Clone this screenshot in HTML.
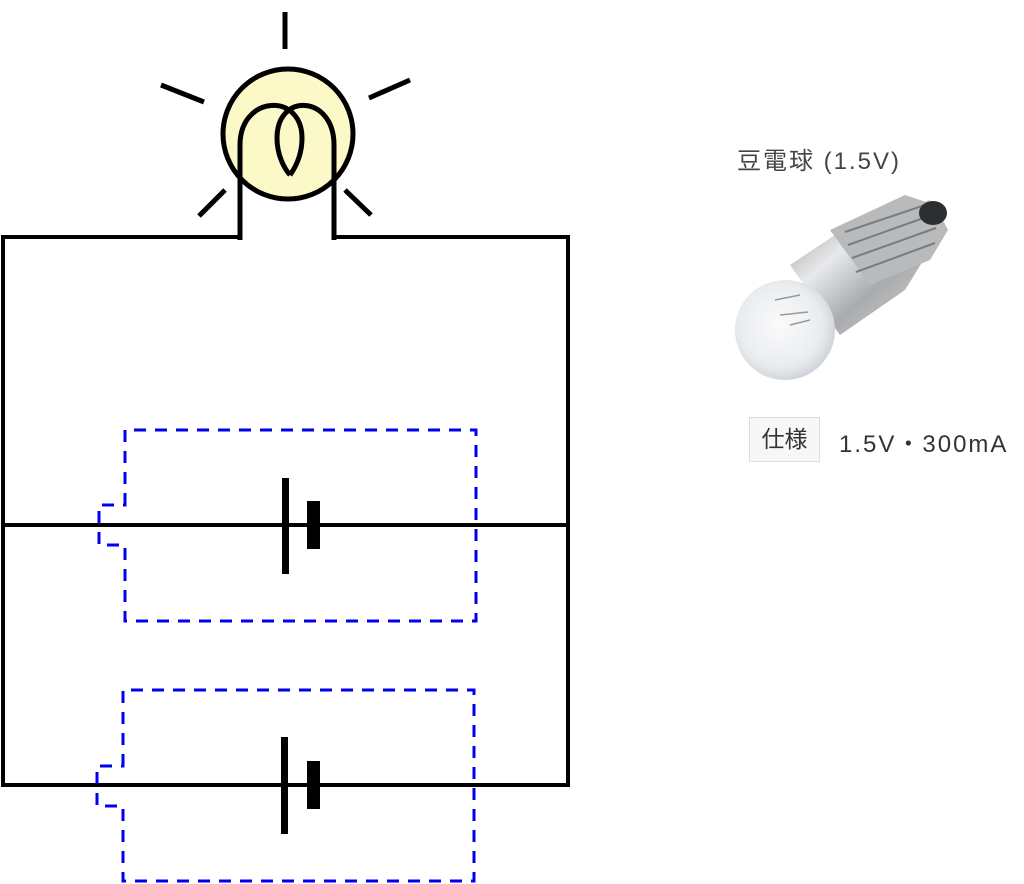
<!DOCTYPE html>
<html><head><meta charset="utf-8"><style>
html,body{margin:0;padding:0;background:#fff;}
body{width:1024px;height:884px;position:relative;overflow:hidden;font-family:"Liberation Sans","Noto Sans CJK JP",sans-serif;}
</style></head><body>
<svg width="1024" height="884" style="position:absolute;left:0;top:0">
<defs>
<radialGradient id="glass" cx="0.45" cy="0.45" r="0.6">
<stop offset="0" stop-color="#fbfbfc"/><stop offset="0.7" stop-color="#e9ecef"/><stop offset="1" stop-color="#c9cdd2"/>
</radialGradient>
<linearGradient id="metal" x1="0" y1="0" x2="1" y2="1">
<stop offset="0" stop-color="#8c8f92"/><stop offset="0.35" stop-color="#e8e9ea"/><stop offset="0.6" stop-color="#a9abad"/><stop offset="1" stop-color="#d8d9da"/>
</linearGradient>
</defs>
<g stroke="#000" stroke-width="4" fill="none">
<polyline points="240,140 240,237 3,237 3,785 568,785 568,237 334,237 334,140"/>
<line x1="3" y1="525" x2="568" y2="525"/>
</g>
<circle cx="288" cy="134" r="65" fill="#fcf9c8" stroke="#000" stroke-width="5"/>
<g stroke="#000" stroke-width="5" fill="none">
<path d="M240,240 L240,145 C240,95 302,92 302,138 C302,155 295,168 290,175"/>
<path d="M334,240 L334,145 C334,95 277,92 277,138 C277,155 284,168 290,175"/>
</g>
<g stroke="#000" stroke-width="5">
<line x1="285" y1="12" x2="285" y2="49"/>
<line x1="161" y1="85" x2="204" y2="102"/>
<line x1="369" y1="98" x2="410" y2="80"/>
<line x1="199" y1="216" x2="225" y2="190"/>
<line x1="345" y1="190" x2="371" y2="215"/>
</g>
<rect x="282" y="478" width="7" height="96" fill="#000"/>
<rect x="307" y="501" width="13" height="48" fill="#000"/>
<rect x="281" y="737" width="7" height="97" fill="#000"/>
<rect x="307" y="761" width="13" height="48" fill="#000"/>
<g stroke="#0000ee" stroke-width="3" fill="none" stroke-dasharray="12,9">
<path d="M125,505 L125,430 L476,430 L476,621 L125,621 L125,545 L99,545 L99,505 Z"/>
<path d="M123,766 L123,690 L474,690 L474,881 L123,881 L123,806 L97,806 L97,766 Z"/>
</g>
<path d="M790,265 L850,225 L930,200 L945,225 L905,290 L840,335 Z" fill="url(#metal)"/>
<path d="M830,230 L905,195 L935,205 L948,230 L930,260 L870,285 Z" fill="#b8babc"/>
<g stroke="#7a7c7e" stroke-width="2" fill="none">
<path d="M845,232 L925,205"/><path d="M848,245 L932,215"/><path d="M852,258 L936,228"/><path d="M856,272 L935,243"/>
</g>
<ellipse cx="933" cy="213" rx="14" ry="12" fill="#2b2d2f"/>
<circle cx="785" cy="330" r="50" fill="url(#glass)"/>
<path d="M775,300 L800,295 M780,315 L808,312 M790,325 L810,320" stroke="#999" stroke-width="1.5"/>
</svg>
<div style="position:absolute;left:737px;top:141px;font-size:24px;letter-spacing:2px;color:#444;white-space:nowrap;">豆電球 (1.5V)</div>
<div style="position:absolute;left:749px;top:417px;width:71px;height:45px;border:1px solid #ddd;background:#f7f7f7;box-sizing:border-box;font-size:23px;color:#333;line-height:43px;text-align:center;">仕様</div>
<div style="position:absolute;left:839px;top:424px;font-size:24px;letter-spacing:2px;color:#333;white-space:nowrap;">1.5V・300mA</div>
</body></html>
